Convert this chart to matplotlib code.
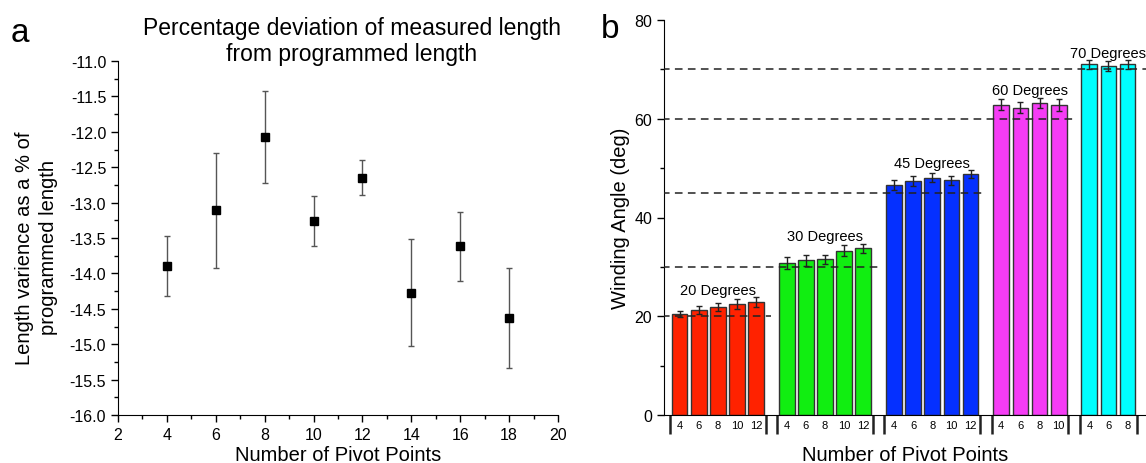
import numpy as np
import matplotlib
matplotlib.use('Agg')
import matplotlib.pyplot as plt
import matplotlib.transforms as mtransforms
from matplotlib.ticker import MultipleLocator

plt.rcParams['font.family'] = ['Liberation Sans', 'DejaVu Sans']

# panel a data
pivot_a = [4, 6, 8, 10, 12, 14, 16, 18]
dev_a = [-13.90, -13.11, -12.07, -13.26, -12.65, -14.27, -13.62, -14.63]
err_a = [0.425, 0.815, 0.65, 0.36, 0.245, 0.75, 0.49, 0.71]

# panel b data
group_labels = ['20 Degrees', '30 Degrees', '45 Degrees', '60 Degrees', '70 Degrees']
target_angles = [20, 30, 45, 60, 70]
pivots_b = [[4, 6, 8, 10, 12], [4, 6, 8, 10, 12], [4, 6, 8, 10, 12], [4, 6, 8, 10], [4, 6, 8]]
angles_20 = [20.4, 21.3, 21.9, 22.5, 22.9]
err_20 = [0.6, 0.8, 0.78, 1.05, 1.0]
angles_30 = [30.7, 31.3, 31.5, 33.3, 33.8]
err_30 = [1.2, 1.07, 0.95, 1.1, 0.9]
angles_45 = [46.5, 47.4, 48.1, 47.5, 48.8]
err_45 = [1.0, 1.1, 0.9, 0.95, 0.75]
angles_60 = [62.8, 62.2, 63.2, 62.8]
err_60 = [1.1, 1.1, 1.05, 1.3]
angles_70 = [71.0, 70.6, 71.0]
err_70 = [0.9, 1.0, 0.9]
colors = ['#ff2200', '#11ee11', '#0530ff', '#f53cf5', '#00ffff']

angles_b = [angles_20, angles_30, angles_45, angles_60, angles_70]
errs_b = [err_20, err_30, err_45, err_60, err_70]

fig = plt.figure(figsize=(11.46, 4.64), dpi=100)

# ---------- panel a ----------
ax1 = fig.add_axes([118/1146, 1 - 416/464, 440/1146, 354/464])
ax1.errorbar(pivot_a, dev_a, yerr=err_a, fmt='s', color='black', markersize=5.5,
             ecolor='#555555', elinewidth=1, capsize=2.5, capthick=1)
ax1.set_xlim(2, 20)
ax1.set_ylim(-16, -11)
ax1.xaxis.set_major_locator(MultipleLocator(2))
ax1.xaxis.set_minor_locator(MultipleLocator(1))
ax1.yaxis.set_major_locator(MultipleLocator(0.5))
ax1.yaxis.set_minor_locator(MultipleLocator(0.25))
ax1.yaxis.set_major_formatter(matplotlib.ticker.FormatStrFormatter('%.1f'))
for s in ['top', 'right']:
    ax1.spines[s].set_visible(False)
ax1.tick_params(which='major', direction='out', length=5, width=1, labelsize=11.5)
ax1.tick_params(which='minor', direction='out', length=3, width=1)
ax1.set_xlabel('Number of Pivot Points', fontsize=14.5, labelpad=2)
ax1.text(-0.185, 0.475, 'Length varience as a % of\nprogrammed length', transform=ax1.transAxes,
         rotation=90, ha='center', va='center', fontsize=14.5, linespacing=1.3)
fig.text(352/1146, 1 - 28/464, 'Percentage deviation of measured length', ha='center', va='center',
         fontsize=16.5)
fig.text(352/1146, 1 - 55/464, 'from programmed length', ha='center', va='center', fontsize=16.5)
fig.text(20/1146, 1 - 33/464, 'a', ha='center', va='center', fontsize=24)

# ---------- panel b ----------
ax2 = fig.add_axes([664/1146, 1 - 416/464, 482/1146, 395/464])
gap = 0.6
start = 0.0
all_pos, all_lab = [], []
trans = mtransforms.blended_transform_factory(ax2.transData, ax2.transAxes)
for i in range(len(group_labels)):
    x = start + np.arange(len(pivots_b[i]))
    ax2.bar(x, angles_b[i], width=0.82, color=colors[i], edgecolor='#333333', linewidth=1,
            yerr=errs_b[i], error_kw=dict(ecolor='#222222', elinewidth=1, capsize=2.5, capthick=1))
    top = max(np.array(angles_b[i]) + np.array(errs_b[i]))
    ax2.text(x.mean(), top + 0.7, group_labels[i], ha='center', va='baseline', fontsize=10.5)
    # reference line for target angle
    x_end = x[-1] + 0.5 + gap / 2 if i < len(group_labels) - 1 else 30
    ax2.plot([-5, x_end], [target_angles[i]] * 2, ls=(0, (5, 3.5)), color='#222222', lw=1.1,
             zorder=3)
    # group brackets
    for xb in (x[0] - 0.5, x[-1] + 0.5):
        ax2.plot([xb, xb], [0, -0.047], transform=trans, color='#222222', lw=1.8,
                 clip_on=False, solid_capstyle='butt')
    all_pos.extend(x)
    all_lab.extend(str(p) for p in pivots_b[i])
    start = x[-1] + 1 + gap

ax2.set_xlim(-0.81, 24.36)
ax2.set_ylim(0, 80)
ax2.set_xticks(all_pos)
ax2.set_xticklabels(all_lab)
ax2.tick_params(axis='x', length=0, pad=3.5, labelsize=8)
ax2.yaxis.set_major_locator(MultipleLocator(20))
ax2.yaxis.set_minor_locator(MultipleLocator(10))
ax2.tick_params(axis='y', which='major', direction='out', length=5, width=1, labelsize=11.5)
ax2.tick_params(axis='y', which='minor', direction='out', length=3, width=1)
for s in ['top', 'right']:
    ax2.spines[s].set_visible(False)
ax2.set_xlabel('Number of Pivot Points', fontsize=14.5)
ax2.xaxis.set_label_coords(0.5, -0.075)
ax2.set_ylabel('Winding Angle (deg)', fontsize=14.5, labelpad=3)
fig.text(610/1146, 1 - 30/464, 'b', ha='center', va='center', fontsize=24)

fig.savefig('out.png', dpi=100)
